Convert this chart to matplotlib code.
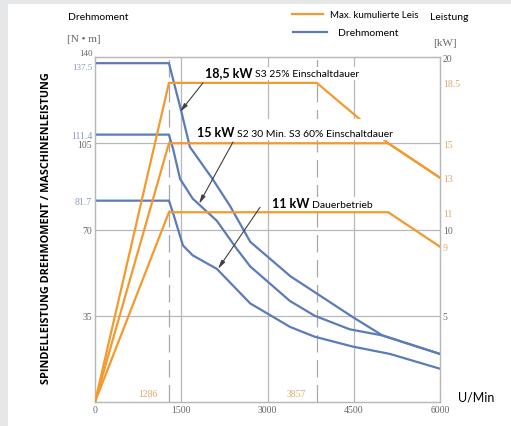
import matplotlib.pyplot as plt
from matplotlib.patches import Rectangle
from matplotlib.lines import Line2D

# ── Data ──────────────────────────────────────────────────────
# Drehmoment [N·m] over Drehzahl [U/min]
rpm_t1    = [0, 1286, 1500, 1650, 2030, 2350, 2700, 3400, 4480, 5000, 6000]
torque_t1 = [137.5, 137.5, 118, 103.5, 91, 79.5, 65, 51, 34.5, 27, 19.5]
rpm_t2    = [0, 1286, 1360, 1480, 1700, 2120, 2470, 2700, 3390, 3820, 4430, 5000, 6000]
torque_t2 = [108.5, 108.5, 102.5, 90.5, 82.5, 73.5, 62, 55, 41, 35, 29.5, 27, 19.5]
rpm_t3    = [0, 1286, 1360, 1530, 1700, 2120, 2700, 3390, 3820, 4480, 5130, 6000]
torque_t3 = [81.7, 81.7, 76.5, 63.5, 59.5, 54, 40, 30.5, 26.5, 22.5, 19.5, 13.5]

# Leistung [kW]
rpm_p1   = [0, 1286, 3857, 5100, 6000]
power_p1 = [0, 18.5, 18.5, 15, 13]
rpm_p2   = [0, 1286, 5100, 6000]
power_p2 = [0, 15, 15, 13]
rpm_p3   = [0, 1286, 5100, 6000]
power_p3 = [0, 11, 11, 9]

x_ticks = [0, 1500, 3000, 4500, 6000]
marked_rpm = [1286, 3857]
left_ticks  = [35, 70, 81.7, 105, 108.5, 137.5, 140]
left_labels = ["35", "70", "81.7", "105", "111.4", "137.5", "140"]
right_ticks  = [5, 9, 10, 11, 13, 15, 18.5, 20]
right_labels = ["5", "9", "10", "11", "13", "15", "18.5", "20"]

ORANGE = "#f39a2e"
BLUE   = "#5a7cb8"
GRID   = "#b8b8b8"
TICK_C = "#666666"
TICK_BLUE = "#8c9cbc"
TICK_ORANGE = "#e0a868"
SANS  = ["Lato", "DejaVu Sans"]
SERIF = ["Liberation Serif", "DejaVu Serif"]

W, H = 511, 427
fig = plt.figure(figsize=(W / 100, H / 100), dpi=100)
fig.patch.set_facecolor("#e6e7e9")
fig.add_artist(Rectangle((8 / W, 0), 1, (H - 5) / H, transform=fig.transFigure,
                         facecolor="white", edgecolor="none", zorder=-10))

ax = fig.add_axes([95 / W, 24 / H, 345 / W, 345 / H])
ax.set_xlim(0, 6000)
ax.set_ylim(0, 140)
ax2 = ax.twinx()
ax2.set_ylim(0, 20)

for a in (ax, ax2):
    for s in a.spines.values():
        s.set_color(GRID)
        s.set_linewidth(0.9)
    a.tick_params(length=0, pad=2, labelsize=7, labelcolor=TICK_C)

# grid
for v in [35, 70, 105]:
    ax.axhline(v, color=GRID, lw=0.9, zorder=1)
for v in [1500, 3000, 4500]:
    ax.axvline(v, color=GRID, lw=0.9, zorder=1)
for v in marked_rpm:
    ax.axvline(v, color="#a8a8a8", lw=0.9, ls=(0, (14, 6)), zorder=1)

# ticks
ax.set_xticks(x_ticks)
ax.set_xticklabels([str(v) for v in x_ticks], family=SERIF)
ax.set_yticks(left_ticks)
ax.set_yticklabels(left_labels, family=SERIF)
for lab, txt in zip(ax.get_yticklabels(), left_labels):
    if txt in ("137.5", "111.4", "81.7"):
        lab.set_color(TICK_BLUE)
    if txt == "140":
        lab.set_verticalalignment("bottom")
        lab.set_fontsize(6.5)
    if txt == "137.5":
        lab.set_verticalalignment("top")
        lab.set_fontsize(6.5)
ax2.set_yticks(right_ticks)
ax2.set_yticklabels(right_labels, family=SERIF)
for lab, txt in zip(ax2.get_yticklabels(), right_labels):
    if txt in ("18.5", "15", "13", "11", "9"):
        lab.set_color(TICK_ORANGE)

for v in marked_rpm:
    ax.annotate(str(v), xy=(v, 0), xytext=(-8, 3), textcoords="offset points",
                ha="right", va="bottom", fontsize=7, color=TICK_ORANGE, family=SERIF)

# curves
for r, t in [(rpm_t1, torque_t1), (rpm_t2, torque_t2), (rpm_t3, torque_t3)]:
    ax.plot(r, t, color=BLUE, lw=1.6, zorder=3)
for r, p in [(rpm_p1, power_p1), (rpm_p2, power_p2), (rpm_p3, power_p3)]:
    ax2.plot(r, p, color=ORANGE, lw=1.6, zorder=3)

# labels with arrows (white boxes hide the lines behind them, as in the original)
labels = [
    ("18,5 kW", "S3 25% Einschaltdauer", (1913, 131.5), False),
    ("15 kW", "S2 30 Min. S3 60% Einschaltdauer", (1774, 107.0), True),
    ("11 kW", "Dauerbetrieb", (3078, 78.5), False),
]
for big, small, (lx, ly), tall in labels:
    t = ax2.annotate(big + " ", xy=(lx, ly), xycoords=ax.transData, fontsize=9,
                     fontweight="bold", family=SANS, va="bottom", ha="left",
                     bbox=dict(facecolor="white", edgecolor="none", pad=1.5), zorder=6)
    ax2.annotate(("\n" if tall else "") + small, xy=(1, ly),
                 xycoords=(t, ax.transData), fontsize=7.5, family=SANS,
                 va="bottom", ha="left", linespacing=0.95,
                 bbox=dict(facecolor="white", edgecolor="none", pad=1.5), zorder=6)

arrows = [((1878, 129.5), (1478, 117.7)),
          ((2400, 105.5), (1809, 80.4)),
          ((2870, 79.0), (2139, 54.0))]
for start, end in arrows:
    ax2.annotate("", xy=end, xytext=start, xycoords=ax.transData,
                 textcoords=ax.transData, zorder=7,
                 arrowprops=dict(arrowstyle="-|>,head_length=0.5,head_width=0.12",
                                 color="#404040", lw=0.8, shrinkA=0, shrinkB=0))

# axis titles and legend
fig.text(68 / W, 1 - 17 / H, "Drehmoment", fontsize=7.5, family=SANS, va="center")
fig.text(67 / W, 1 - 40 / H, "[N • m]", fontsize=8, family=SERIF, color=TICK_C, va="center")
fig.text(430 / W, 1 - 18 / H, "Leistung", fontsize=7.5, family=SANS, va="center")
fig.text(433 / W, 1 - 44 / H, "[kW]", fontsize=8, family=SERIF, color=TICK_C, va="center")
fig.text(458 / W, 1 - 398 / H, "U/Min", fontsize=9, family=SANS, va="center")
fig.text(47 / W, 1 - 228 / H, "SPINDELLEISTUNG DREHMOMENT / MASCHINENLEISTUNG",
         rotation=90, fontsize=7.8, fontweight="bold", family=["Open Sans", "DejaVu Sans"],
         ha="center", va="center")

fig.add_artist(Line2D([292 / W, 323 / W], [1 - 15 / H, 1 - 15 / H], color=ORANGE, lw=1.6))
fig.add_artist(Line2D([293 / W, 327 / W], [1 - 33 / H, 1 - 33 / H], color=BLUE, lw=1.6))
fig.text(330 / W, 1 - 15 / H, "Max. kumulierte Leis", fontsize=7, family=SANS, va="center")
fig.text(338 / W, 1 - 33 / H, "Drehmoment", fontsize=7.5, family=SANS, va="center")

fig.savefig("out.png", dpi=100)
